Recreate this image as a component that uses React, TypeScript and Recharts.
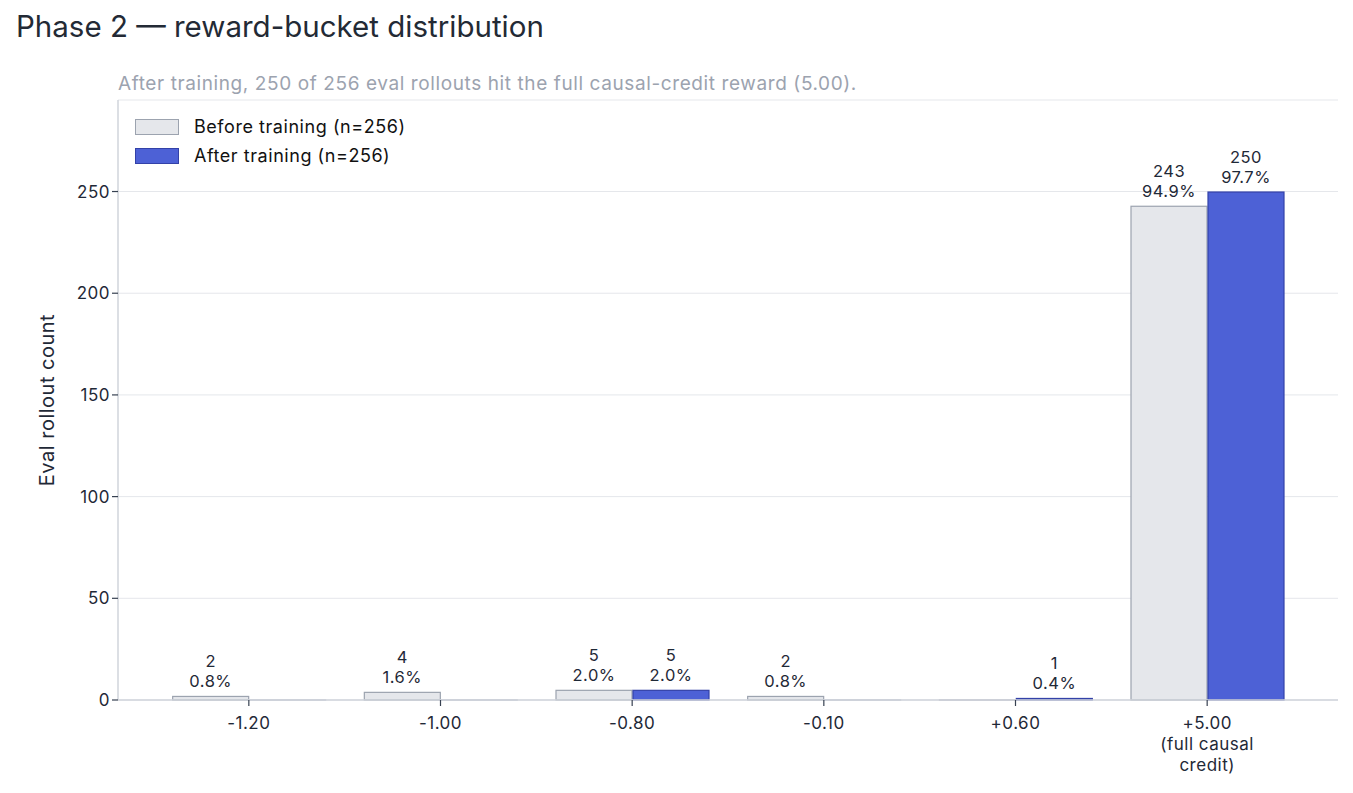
import React from "react";
import {
  BarChart,
  Bar,
  XAxis,
  YAxis,
  CartesianGrid,
  LabelList,
} from "recharts";

const buckets = ["-1.20", "-1.00", "-0.80", "-0.10", "+0.60", "+5.00\n(full causal\ncredit)"];
const beforeCounts = [2, 4, 5, 2, 0, 243];
const afterCounts = [0, 0, 5, 0, 1, 250];
const yTicks = [0, 50, 100, 150, 200, 250];
const TOTAL = 256;

const FONT = 'Inter, "Liberation Sans", Arial, sans-serif';
const INK = "#1f2937";

const data = buckets.map((bucket, i) => ({
  bucket,
  before: beforeCounts[i],
  after: afterCounts[i],
}));

// zero-count bars still show as a thin outline on the baseline
function makeShape(fill: string, stroke: string, zeroStroke: string) {
  return (props: any) => {
    const { x, y, width, height } = props;
    if (!height || height < 0.5) {
      return <line x1={x} x2={x + width} y1={y} y2={y} stroke={zeroStroke} strokeWidth={1.5} />;
    }
    return (
      <rect x={x + 0.5} y={y + 0.5} width={width - 1} height={height - 0.5} fill={fill} stroke={stroke} strokeWidth={1.2} />
    );
  };
}

function ValueLabel(props: any) {
  const { x, y, width, value } = props;
  if (!value) return null;
  const cx = x + width / 2;
  const pct = ((value / TOTAL) * 100).toFixed(1) + "%";
  return (
    <g fontSize={16.5} fill={INK} fontFamily={FONT} letterSpacing={0.5}>
      <text x={cx} y={y - 29} textAnchor="middle">
        {value}
      </text>
      <text x={cx} y={y - 9} textAnchor="middle">
        {pct}
      </text>
    </g>
  );
}

function BucketTick(props: any) {
  const { x, y, payload } = props;
  const lines = String(payload.value).split("\n");
  return (
    <g>
      <line x1={x} x2={x} y1={y - 8} y2={y - 2} stroke="#374151" strokeWidth={1.2} />
      {lines.map((line, i) => (
        <text
          key={i}
          x={x}
          y={y + 21 + i * 21}
          textAnchor="middle"
          fontSize={17}
          letterSpacing={0.5}
          fill={INK}
          fontFamily={FONT}
        >
          {line}
        </text>
      ))}
    </g>
  );
}

const legendItems = [
  { label: "Before training (n=256)", fill: "#e5e7eb", stroke: "#9ca3af" },
  { label: "After training (n=256)", fill: "#4d61d6", stroke: "#3341a8" },
];

export default function App() {
  return (
    <div style={{ position: "absolute", left: 0, top: 0, width: 1353, height: 793, background: "#fff" }}>
      <div
        style={{
          position: "absolute",
          left: 16,
          top: 8,
          fontFamily: FONT,
          fontSize: 29.5,
          color: "#232a35",
          whiteSpace: "nowrap",
        }}
      >
        Phase 2 — reward-bucket distribution
      </div>
      <div
        style={{
          position: "absolute",
          left: 118,
          top: 72,
          fontFamily: FONT,
          fontSize: 19,
          letterSpacing: 0.6,
          color: "#9ca3af",
          whiteSpace: "nowrap",
        }}
      >
        After training, 250 of 256 eval rollouts hit the full causal-credit reward (5.00).
      </div>
      <BarChart
        width={1353}
        height={793}
        data={data}
        margin={{ top: 100, right: 15, left: 0, bottom: 13 }}
        barCategoryGap="10%"
        barGap={0}
      >
        <CartesianGrid vertical={false} stroke="#e5e7eb" />
        <XAxis
          dataKey="bucket"
          height={80}
          padding={{ left: 35, right: 35 }}
          stroke="#d1d5db"
          strokeWidth={1.5}
          tickLine={false}
          tick={<BucketTick />}
          interval={0}
        />
        <YAxis
          width={118}
          domain={[0, 295]}
          ticks={yTicks}
          stroke="#d1d5db"
          strokeWidth={1.5}
          tickLine={{ stroke: "#374151", strokeWidth: 1.2 }}
          tickSize={6}
          tick={{ fill: INK, fontSize: 17, fontFamily: FONT, letterSpacing: 0.5 }}
          label={{
            value: "Eval rollout count",
            angle: -90,
            position: "insideLeft",
            offset: 47,
            style: { textAnchor: "middle", fill: INK, fontSize: 20, letterSpacing: 0.5, fontFamily: FONT },
          }}
        />
        <Bar
          dataKey="before"
          name="Before training (n=256)"
          isAnimationActive={false}
          shape={makeShape("#e5e7eb", "#9ca3af", "#b0b5bf")}
        >
          <LabelList dataKey="before" content={<ValueLabel />} />
        </Bar>
        <Bar
          dataKey="after"
          name="After training (n=256)"
          isAnimationActive={false}
          shape={makeShape("#4d61d6", "#3341a8", "#b7bccb")}
        >
          <LabelList dataKey="after" content={<ValueLabel />} />
        </Bar>
      </BarChart>
      <div style={{ position: "absolute", left: 135, top: 112, fontFamily: FONT }}>
        {legendItems.map((it) => (
          <div key={it.label} style={{ display: "flex", alignItems: "center", height: 29 }}>
            <div
              style={{
                width: 42,
                height: 14,
                background: it.fill,
                border: `1.2px solid ${it.stroke}`,
                marginRight: 15,
              }}
            />
            <span style={{ fontSize: 18, letterSpacing: 0.55, color: "#111" }}>{it.label}</span>
          </div>
        ))}
      </div>
    </div>
  );
}
